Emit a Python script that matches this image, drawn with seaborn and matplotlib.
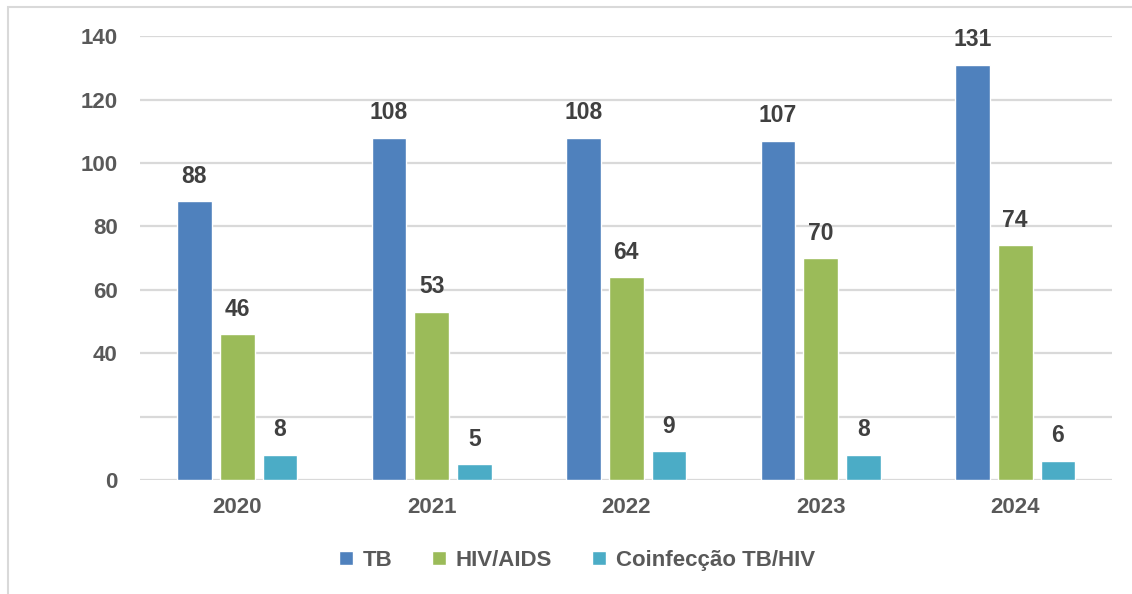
import matplotlib
matplotlib.use("Agg")
import matplotlib.pyplot as plt
import pandas as pd
import seaborn as sns
from matplotlib.patches import Rectangle

YEARS = ["2020", "2021", "2022", "2023", "2024"]
SERIES = ["TB", "HIV/AIDS", "Coinfecção TB/HIV"]
TB = [88, 108, 108, 107, 131]
HIV = [46, 53, 64, 70, 74]
COINF = [8, 5, 9, 8, 6]
COLORS = ["#4F81BD", "#9BBB59", "#4BACC6"]
YTICKS = [0, 20, 40, 60, 80, 100, 120, 140]
YTICK_LABELS = ["0", "", "40", "60", "80", "100", "120", "140"]

sns.set_style("white")
plt.rcParams["font.family"] = ["Liberation Sans", "DejaVu Sans"]
plt.rcParams["font.weight"] = "bold"

df = pd.DataFrame({
    "ano": YEARS * 3,
    "serie": [s for s in SERIES for _ in YEARS],
    "casos": TB + HIV + COINF,
})

fig = plt.figure(figsize=(11.32, 5.94), dpi=100)
ax = fig.add_axes([0.1237, 0.192, 0.859, 0.747])

sns.barplot(data=df, x="ano", y="casos", hue="serie", palette=COLORS,
            width=0.66, gap=0.19, ax=ax, legend=True, saturation=1)

ax.set_ylim(0, 140)
ax.set_yticks(YTICKS)
ax.set_yticklabels(YTICK_LABELS)
ax.yaxis.grid(True, color="#D9D9D9", linewidth=1.6)
ax.set_axisbelow(True)
for s in ax.spines.values():
    s.set_visible(False)
ax.tick_params(axis="y", length=0, pad=16, labelsize=16, labelcolor="#595959")
ax.tick_params(axis="x", length=0, pad=12, labelsize=16, labelcolor="#595959")
ax.set_xlabel("")
ax.set_ylabel("")

for cont in ax.containers:
    for bar in cont:
        h = bar.get_height()
        ax.annotate(f"{h:.0f}", (bar.get_x() + bar.get_width() / 2, h),
                    xytext=(0, 18), textcoords="offset points",
                    ha="center", va="center", fontsize=16.5,
                    fontweight="bold", color="#404040")

handles, labels = ax.get_legend_handles_labels()
ax.legend_.remove()
fig.legend(handles, labels, loc="center", bbox_to_anchor=(577 / 1132, 0.057),
           ncol=3, frameon=False, fontsize=16, handlelength=0.6,
           handleheight=0.6, handletextpad=0.45, columnspacing=1.8,
           labelcolor="#595959")

# moldura externa do gráfico (só esquerda e topo aparecem)
fig.patches.append(Rectangle((8 / 1132, -0.05), 1.2, 1.05 - 7 / 594,
                             transform=fig.transFigure, fill=False,
                             edgecolor="#D9D9D9", linewidth=1.5))

fig.savefig("out.png", dpi=100, facecolor="white")
